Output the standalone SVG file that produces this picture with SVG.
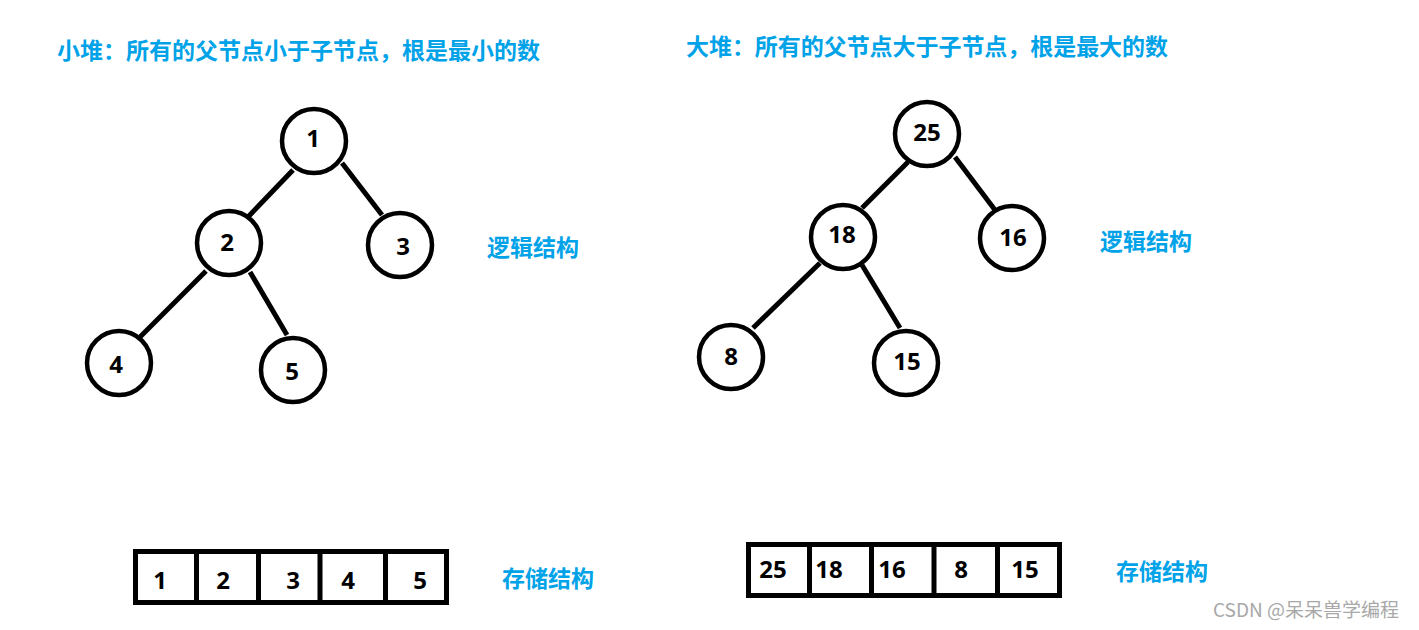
<svg xmlns="http://www.w3.org/2000/svg" width="1419" height="630" viewBox="0 0 1419 630">
<style>
.title{font-family:"Noto Sans CJK SC","Microsoft YaHei",sans-serif;font-weight:bold;font-size:23px;fill:#00A2E8}
.lbl{font-family:"Noto Sans CJK SC",sans-serif;font-weight:bold;font-size:23px;fill:#00A2E8}
.node circle{fill:#fff;stroke:#000;stroke-width:4.5}
.num{font-family:"Open Sans","Noto Sans",sans-serif;font-weight:bold;font-size:24px;fill:#000;text-anchor:middle}
.edge{stroke:#000;stroke-width:5;stroke-linecap:butt}
.arr{fill:#fff;stroke:#000;stroke-width:5}
.div{stroke:#000;stroke-width:5}
.wm{font-family:"Noto Sans CJK SC",sans-serif;font-size:19px;fill:#a8a8a8}
</style>
<rect width="1419" height="630" fill="#fff"/>
<text class="title" x="57" y="59" textLength="483">小堆：所有的父节点小于子节点，根是最小的数</text>
<text class="title" x="686" y="55" textLength="482">大堆：所有的父节点大于子节点，根是最大的数</text>
<text class="lbl" x="487" y="256">逻辑结构</text>
<text class="lbl" x="1100" y="250">逻辑结构</text>
<text class="lbl" x="502" y="587">存储结构</text>
<text class="lbl" x="1116" y="580">存储结构</text>
<g id="connectors">
<line class="edge" x1="293" y1="170" x2="248" y2="217"/>
<line class="edge" x1="342" y1="163" x2="382" y2="215"/>
<line class="edge" x1="206" y1="271" x2="140" y2="337"/>
<line class="edge" x1="250" y1="272" x2="287" y2="335"/>
<line class="edge" x1="908" y1="162" x2="862" y2="208"/>
<line class="edge" x1="955" y1="157" x2="995" y2="210"/>
<line class="edge" x1="820" y1="263" x2="753" y2="328"/>
<line class="edge" x1="862" y1="265" x2="900" y2="328"/>
</g>
<g id="n1" class="node"><circle cx="314" cy="141" r="32"/><text class="num" x="313" y="147">1</text></g>
<g id="n2" class="node"><circle cx="229" cy="243" r="32"/><text class="num" x="227" y="251">2</text></g>
<g id="n3" class="node"><circle cx="400" cy="245" r="32"/><text class="num" x="403" y="255">3</text></g>
<g id="n4" class="node"><circle cx="119" cy="363" r="32"/><text class="num" x="116" y="373">4</text></g>
<g id="n5" class="node"><circle cx="293" cy="370" r="32"/><text class="num" x="292" y="380">5</text></g>
<g id="n25" class="node"><circle cx="927" cy="134" r="32"/><text class="num" x="927" y="141">25</text></g>
<g id="n18" class="node"><circle cx="843" cy="237" r="32"/><text class="num" x="842" y="243">18</text></g>
<g id="n16" class="node"><circle cx="1012" cy="238" r="32"/><text class="num" x="1013" y="246">16</text></g>
<g id="n8" class="node"><circle cx="731" cy="357" r="32"/><text class="num" x="731" y="365">8</text></g>
<g id="n15" class="node"><circle cx="906" cy="363" r="32"/><text class="num" x="907" y="370">15</text></g>
<g id="array-min">
<rect class="arr" x="135.5" y="551.5" width="311" height="51"/>
<line class="div" x1="196.5" y1="551.5" x2="196.5" y2="602.5"/>
<line class="div" x1="258.5" y1="551.5" x2="258.5" y2="602.5"/>
<line class="div" x1="320" y1="551.5" x2="320" y2="602.5"/>
<line class="div" x1="385.5" y1="551.5" x2="385.5" y2="602.5"/>
<text class="num" x="160" y="589">1</text>
<text class="num" x="223" y="589">2</text>
<text class="num" x="293" y="589">3</text>
<text class="num" x="348" y="589">4</text>
<text class="num" x="420" y="589">5</text>
</g>
<g id="array-max">
<rect class="arr" x="748.5" y="544.5" width="311" height="51"/>
<line class="div" x1="809.5" y1="544.5" x2="809.5" y2="595.5"/>
<line class="div" x1="871.5" y1="544.5" x2="871.5" y2="595.5"/>
<line class="div" x1="934" y1="544.5" x2="934" y2="595.5"/>
<line class="div" x1="997.5" y1="544.5" x2="997.5" y2="595.5"/>
<text class="num" x="773" y="578">25</text>
<text class="num" x="829" y="578">18</text>
<text class="num" x="892" y="578">16</text>
<text class="num" x="961" y="578">8</text>
<text class="num" x="1025" y="578">15</text>
</g>
<text class="wm" x="1213" y="617">CSDN @呆呆兽学编程</text>
</svg>
